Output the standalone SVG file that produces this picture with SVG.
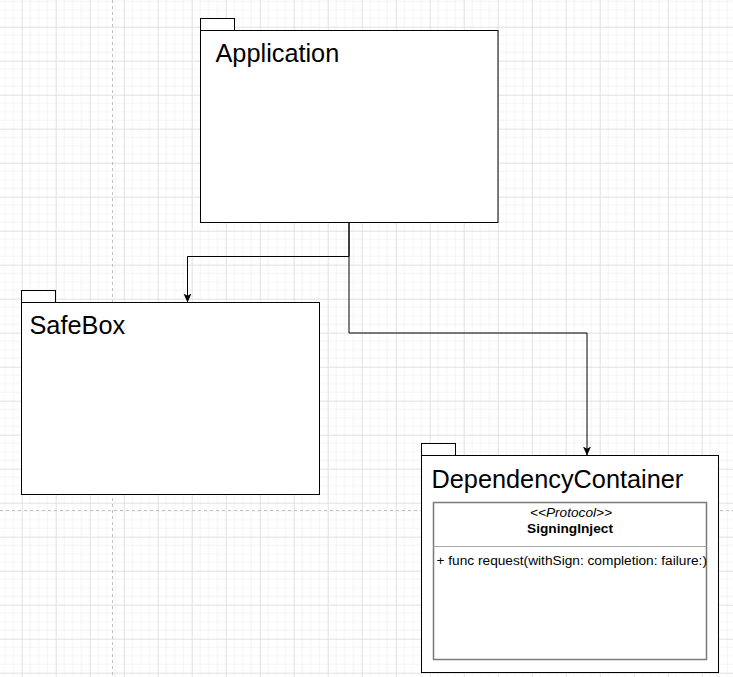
<svg xmlns="http://www.w3.org/2000/svg" width="733" height="677" viewBox="0 0 733 677">
<style>
.pkg{fill:#fff;stroke:#000;stroke-width:1}
.title{font-family:"Liberation Sans",Arial,sans-serif;font-size:25.3px;fill:#000}
.small{font-family:"Liberation Sans",Arial,sans-serif;font-size:13.7px;fill:#000}
.edge{fill:none;stroke:#000;stroke-width:1}
.guide{stroke:#c0c0c0;stroke-width:1;stroke-dasharray:3 3}
</style>
<defs>
<pattern id="grid" x="21.7" y="26.7" width="34" height="34" patternUnits="userSpaceOnUse">
<path d="M8.5,0V34M17,0V34M25.5,0V34M0,8.5H34M0,17H34M0,25.5H34" stroke="#f4f4f4" stroke-width="1" fill="none"/>
<path d="M0.5,0V34M0,0.5H34" stroke="#e0e0e0" stroke-width="1" fill="none"/>
</pattern>
<marker id="arrow" viewBox="0 0 9 9" refX="9" refY="4.5" markerWidth="9" markerHeight="9" markerUnits="userSpaceOnUse" orient="auto">
<path d="M0,0.5 L9,4.5 L0,8.5 L2.2,4.5 Z" fill="#000"/>
</marker>
</defs>
<rect width="733" height="677" fill="#fff"/>
<rect width="733" height="677" fill="url(#grid)"/>
<line class="guide" x1="112.5" y1="0" x2="112.5" y2="677"/>
<line class="guide" x1="0" y1="510.5" x2="733" y2="510.5"/>
<g id="connectors">
<path class="edge" d="M349,222.5 V256.5 H187.5 V302.5" marker-end="url(#arrow)"/>
<path class="edge" d="M349,222.5 V333 H587 V455.5" marker-end="url(#arrow)"/>
</g>
<g id="application">
<rect class="pkg" x="200.5" y="18.5" width="34" height="12"/>
<rect class="pkg" x="200.5" y="30.5" width="297.5" height="192"/>
<text class="title" x="215.5" y="62">Application</text>
</g>
<g id="safebox">
<rect class="pkg" x="21.5" y="290.5" width="34" height="12"/>
<rect class="pkg" x="21.5" y="302.5" width="298" height="192"/>
<text class="title" x="29.5" y="333.5">SafeBox</text>
</g>
<g id="dependencycontainer">
<rect class="pkg" x="421.5" y="443.5" width="34" height="12"/>
<rect class="pkg" x="421.5" y="455.5" width="297" height="217"/>
<text class="title" x="431.5" y="487.5">DependencyContainer</text>
</g>
<g id="signinginject">
<rect x="433.5" y="502.5" width="273" height="157" fill="#fff" stroke="#7a7a7a" stroke-width="1.5"/>
<line x1="433.5" y1="546.5" x2="706.5" y2="546.5" stroke="#a8a8a8" stroke-width="1"/>
<text class="small" x="571" y="517" text-anchor="middle" font-style="italic">&lt;&lt;Protocol&gt;&gt;</text>
<text class="small" x="570" y="533" text-anchor="middle" font-weight="bold">SigningInject</text>
<text class="small" x="436.5" y="564.5">+ func request(withSign: completion: failure:)</text>
</g>
</svg>
